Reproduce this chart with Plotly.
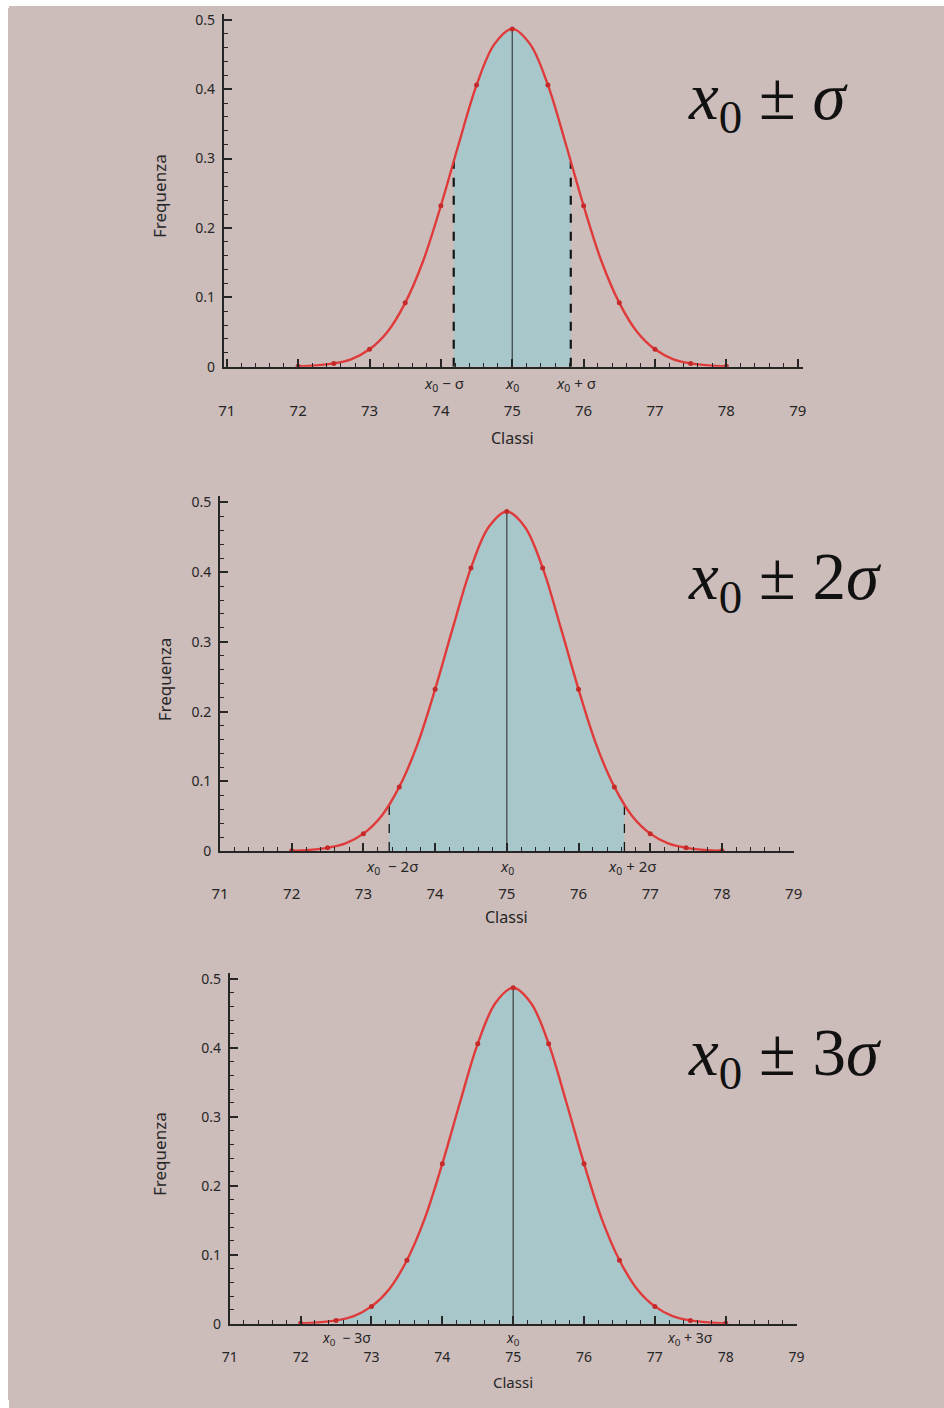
import plotly.graph_objects as go

# page is 944x1408; the body keeps its default 8px margin, so the figure is 928x1392
PAGE_OFF = 8
W, H = 928, 1392

# ---- data (same normal curve in all three panels) ----
curve_x = [72.0, 72.25, 72.5, 72.75, 73.0, 73.25, 73.5, 73.75, 74.0, 74.25, 74.5, 74.75,
           75.0, 75.25, 75.5, 75.75, 76.0, 76.25, 76.5, 76.75, 77.0, 77.25, 77.5, 77.75, 78.0]
curve_y = [0.0006, 0.0018, 0.0047, 0.011, 0.025, 0.050, 0.092, 0.152, 0.232, 0.321, 0.406, 0.465,
           0.487, 0.465, 0.406, 0.321, 0.232, 0.152, 0.092, 0.050, 0.025, 0.011, 0.0047, 0.0018, 0.0006]
marker_x = [72.0, 72.5, 73.0, 73.5, 74.0, 74.5, 75.0, 75.5, 76.0, 76.5, 77.0, 77.5, 78.0]
marker_y = [0.0006, 0.0047, 0.025, 0.092, 0.232, 0.406, 0.487, 0.406, 0.232, 0.092, 0.025, 0.0047, 0.0006]

x0 = 75.0
peak = 0.487
# shaded interval bounds and curve height at the bounds, per panel
band_lo = [74.18, 73.36, 72.54]
band_hi = [75.82, 76.64, 77.46]
band_lo_y = [0.295, 0.066, 0.0054]
band_hi_y = [0.295, 0.066, 0.0054]
dashed = [True, True, False]

NB = "\u00a0"
labels_lo = ["<i>x</i><sub>0</sub>" + NB + "−" + NB + "σ",
             "<i>x</i><sub>0</sub>" + NB * 2 + "−" + NB + "2σ",
             "<i>x</i><sub>0</sub>" + NB * 2 + "−" + NB + "3σ"]
labels_mid = ["<i>x</i><sub>0</sub>", "<i>x</i><sub>0</sub>", "<i>x</i><sub>0</sub>"]
labels_hi = ["<i>x</i><sub>0</sub>" + NB + "+" + NB + "σ",
             "<i>x</i><sub>0</sub>" + NB + "+" + NB + "2σ",
             "<i>x</i><sub>0</sub>" + NB + "+" + NB + "3σ"]
label_lo_pos = [74.05, 73.4, 72.65]
label_hi_pos = [75.9, 76.75, 77.5]
big_titles = ["<i>x</i><sub>0</sub> ± <i>σ</i>", "<i>x</i><sub>0</sub> ± 2<i>σ</i>", "<i>x</i><sub>0</sub> ± 3<i>σ</i>"]

x_ticks = [71, 72, 73, 74, 75, 76, 77, 78, 79]
y_ticks = [0, 0.1, 0.2, 0.3, 0.4, 0.5]
x_title = "Classi"
y_title = "Frequenza"

# ---- layout geometry (page pixels) ----
panels = [
    dict(xl=219, xr=810, xmin=70.96, xmax=79.08, yt=10, yb=366, ytitle_x=154, formula_y=98,
         standoff=29, tick_size=15, lab_shift=-4, lab_size=15, title_shift=-58, title_size=16),
    dict(xl=215, xr=800, xmin=71.0, xmax=79.0, yt=497, yb=855, ytitle_x=158, formula_y=582,
         standoff=28, tick_size=15, lab_shift=-3, lab_size=15, title_shift=-53, title_size=16),
    dict(xl=225, xr=803, xmin=71.0, xmax=79.0, yt=978, yb=1332, ytitle_x=154, formula_y=1063,
         standoff=20, tick_size=14, lab_shift=-2, lab_size=14, title_shift=-46, title_size=15),
]
YMAX = 0.5085

BG = "#ccbcba"
RED = "#e03b3b"
MRED = "#c42a2a"
FILL = "#a8c7ca"
AX = "#262626"
TXT = "#262626"
FONT = "Noto Sans"

def px(x):
    return (x - PAGE_OFF) / W

def py(y):
    return 1 - (y - PAGE_OFF) / H

fig = go.Figure()
layout = {}
annotations = []

for i, p in enumerate(panels):
    n = "" if i == 0 else str(i + 1)
    xa, ya = "x" + n, "y" + n
    lo, hi = band_lo[i], band_hi[i]

    # shaded area under curve between the bounds
    fx = [lo] + [x for x in curve_x if lo < x < hi] + [hi]
    fy = [band_lo_y[i]] + [y for x, y in zip(curve_x, curve_y) if lo < x < hi] + [band_hi_y[i]]
    fig.add_trace(go.Scatter(x=fx, y=fy, mode="lines", line=dict(width=0, shape="spline"),
                             fill="tozeroy", fillcolor=FILL, xaxis=xa, yaxis=ya,
                             showlegend=False, hoverinfo="skip"))
    # centre line
    fig.add_trace(go.Scatter(x=[x0, x0], y=[0, peak], mode="lines",
                             line=dict(color="#3a3f40", width=1.2), xaxis=xa, yaxis=ya,
                             showlegend=False, hoverinfo="skip"))
    if dashed[i]:
        w = 2.2 if i == 0 else 1.3
        for bx, by in ((lo, band_lo_y[i]), (hi, band_hi_y[i])):
            fig.add_trace(go.Scatter(x=[bx, bx], y=[0, by], mode="lines",
                                     line=dict(color="#151515", width=w, dash="dash"),
                                     xaxis=xa, yaxis=ya, showlegend=False, hoverinfo="skip"))
    # red curve
    fig.add_trace(go.Scatter(x=curve_x, y=curve_y, mode="lines",
                             line=dict(color=RED, width=2.4, shape="spline"),
                             xaxis=xa, yaxis=ya, showlegend=False))
    fig.add_trace(go.Scatter(x=marker_x, y=marker_y, mode="markers",
                             marker=dict(color=MRED, size=5, symbol="circle"),
                             xaxis=xa, yaxis=ya, showlegend=False))

    layout["xaxis" + n] = dict(
        domain=[px(p["xl"]), px(p["xr"])], range=[p["xmin"], p["xmax"]], anchor=ya,
        showline=True, linecolor=AX, linewidth=2, showgrid=False, zeroline=False,
        tickmode="array", tickvals=x_ticks, ticktext=[str(t) for t in x_ticks],
        ticks="inside", ticklen=8, tickwidth=1.5, tickcolor=AX,
        minor=dict(dtick=0.2, tick0=71, ticks="inside", ticklen=4, tickwidth=1.2, tickcolor=AX),
        ticklabelstandoff=p["standoff"], tickfont=dict(family=FONT, size=p["tick_size"], color=TXT),
        ticklabeloverflow="allow", fixedrange=True,
    )
    layout["yaxis" + n] = dict(
        domain=[py(p["yb"]), py(p["yt"])], range=[0, YMAX], anchor=xa,
        showline=True, linecolor=AX, linewidth=2, showgrid=False, zeroline=False,
        tickmode="array", tickvals=y_ticks, ticktext=["0", "0.1", "0.2", "0.3", "0.4", "0.5"],
        ticks="inside", ticklen=8, tickwidth=1.5, tickcolor=AX,
        minor=dict(dtick=0.02, tick0=0, ticks="inside", ticklen=4, tickwidth=1.2, tickcolor=AX),
        ticklabelstandoff=4, tickfont=dict(family=FONT, size=14, color=TXT),
        ticklabeloverflow="allow", fixedrange=True,
    )

    # x0 labels under the axis
    for pos, txt in ((label_lo_pos[i], labels_lo[i]), (x0, labels_mid[i]), (label_hi_pos[i], labels_hi[i])):
        annotations.append(dict(x=pos, y=0, xref=xa, yref=ya, text=txt, showarrow=False,
                                xanchor="center", yanchor="top", yshift=p["lab_shift"],
                                font=dict(family=FONT, size=p["lab_size"], color=TXT)))
    # axis titles
    annotations.append(dict(x=75, y=0, xref=xa, yref=ya, text=x_title, showarrow=False,
                            xanchor="center", yanchor="top", yshift=p["title_shift"],
                            font=dict(family=FONT, size=p["title_size"], color=TXT)))
    annotations.append(dict(x=px(p["ytitle_x"]), y=(py(p["yb"]) + py(p["yt"])) / 2 - 0.004,
                            xref="paper", yref="paper", text=y_title, textangle=-90,
                            showarrow=False, xanchor="center", yanchor="middle",
                            font=dict(family=FONT, size=17, color=TXT)))
    # big formula label
    annotations.append(dict(x=px(690), y=py(p["formula_y"]), xref="paper", yref="paper",
                            text=big_titles[i], showarrow=False, xanchor="left", yanchor="middle",
                            font=dict(family="Liberation Serif", size=67, color="#111111")))

fig.update_layout(
    width=W, height=H, margin=dict(l=0, r=0, t=0, b=0),
    paper_bgcolor=BG, plot_bgcolor="rgba(0,0,0,0)",
    annotations=annotations, **layout,
)

page_bg = ("document.documentElement.style.background="
           "'linear-gradient(to bottom, #ffffff 6px, rgba(255,255,255,0) 6px), "
           "linear-gradient(to right, #ffffff 9px, " + BG + " 9px)';")

fig.write_html("out.html", config={"displayModeBar": False}, post_script=page_bg)
